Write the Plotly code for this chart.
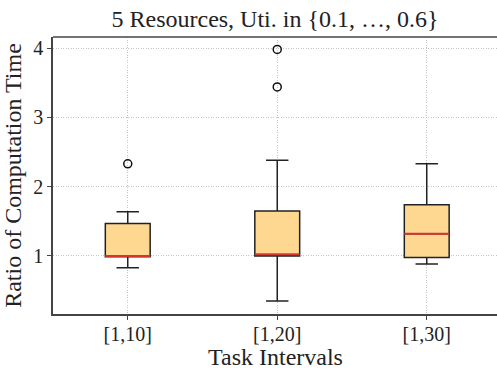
import plotly.graph_objects as go

categories = ["[1,10]", "[1,20]", "[1,30]"]
positions = [1, 2, 3]
q1 = [0.99, 1.0, 0.98]
median = [1.0, 1.02, 1.32]
q3 = [1.47, 1.65, 1.74]
lower_whisker = [0.83, 0.35, 0.885]
upper_whisker = [1.64, 2.38, 2.33]
outlier_x = [1, 2, 2]
outlier_y = [2.33, 3.44, 3.98]

box_width = 0.3
FONT = "Liberation Serif"

fig = go.Figure()
fig.add_trace(go.Box(
    x=positions, q1=q1, median=median, q3=q3,
    lowerfence=lower_whisker, upperfence=upper_whisker,
    width=box_width, whiskerwidth=0.5,
    fillcolor="#fed891", line=dict(color="#222222", width=1.5),
    boxpoints=False, hoverinfo="skip", showlegend=False,
))

mx, my = [], []
for p, m in zip(positions, median):
    mx += [p - box_width / 2, p + box_width / 2, None]
    my += [m, m, None]
fig.add_trace(go.Scatter(x=mx, y=my, mode="lines",
                         line=dict(color="#d3352f", width=2),
                         hoverinfo="skip", showlegend=False))

fig.add_trace(go.Scatter(x=outlier_x, y=outlier_y, mode="markers",
                         marker=dict(symbol="circle-open", size=8,
                                     color="#111111", line=dict(width=1.5)),
                         hoverinfo="skip", showlegend=False))

axis_common = dict(
    showline=True, linecolor="#444444", linewidth=1.5,
    ticks="outside", ticklen=4, tickcolor="#444444",
    showgrid=True, gridcolor="#c4c4c4", griddash="1px,1.5px", gridwidth=1,
    zeroline=False, tickfont=dict(family=FONT, size=20, color="#222222"),
)

fig.update_layout(
    width=497, height=371,
    margin=dict(l=53, r=0, t=37, b=57),
    plot_bgcolor="white", paper_bgcolor="white",
    title=dict(text="5 Resources, Uti. in {0.1, \u2026, 0.6}",
               x=0.5, xanchor="center", y=0.95, yanchor="middle",
               xref="paper",
               font=dict(family=FONT, size=24, color="#222222")),
    xaxis=dict(axis_common, range=[0.5, 3.47], tickvals=positions,
               ticktext=categories, mirror=False, ticklabelstandoff=-3),
    yaxis=dict(axis_common, range=[0.163, 4.16], tickvals=[1, 2, 3, 4],
               title=dict(text="Ratio of Computation Time", standoff=6,
                          font=dict(family=FONT, size=24, color="#222222"))),
    shapes=[dict(type="line", xref="paper", yref="paper", x0=0, x1=1,
                 y0=1, y1=1, line=dict(color="#444444", width=1.5))],
    annotations=[dict(text="Task Intervals", xref="paper", yref="paper",
                      x=0.5, y=-0.157, xanchor="center", yanchor="middle",
                      showarrow=False,
                      font=dict(family=FONT, size=24, color="#222222"))],
)

fig.write_html("out.html")
